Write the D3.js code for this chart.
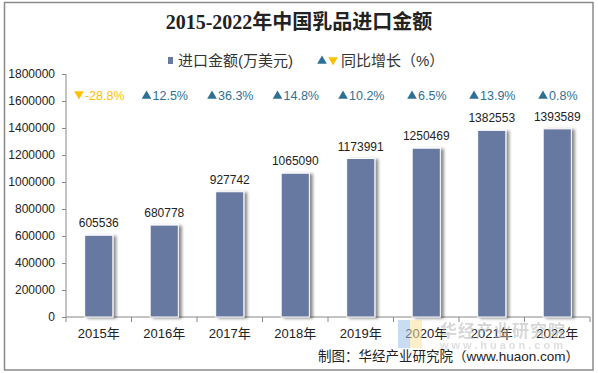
<!DOCTYPE html>
<html>
<head>
<meta charset="utf-8">
<script src="https://cdn.jsdelivr.net/npm/d3@7"></script>
<style>
  body { margin: 0; background: #fff; }
  svg { display: block; font-family: "Liberation Sans", Arial, "Noto Sans CJK SC", sans-serif; }
</style>
</head>
<body>
<svg id="chart" width="598" height="373"></svg>
<script>
const years = ["2015年", "2016年", "2017年", "2018年", "2019年", "2020年", "2021年", "2022年"];
const importValues = [605536, 680778, 927742, 1065090, 1173991, 1250469, 1382553, 1393589];
const growthRates = [-28.8, 12.5, 36.3, 14.8, 10.2, 6.5, 13.9, 0.8];
const yTicks = [0, 200000, 400000, 600000, 800000, 1000000, 1200000, 1400000, 1600000, 1800000];

const w = 598, h = 373;
const margin = { top: 74, right: 8, bottom: 56, left: 66 };
const barColor = "#6779a1";
const upColor = "#2f6f94";
const downColor = "#ffc000";

const svg = d3.select("#chart");

// outer frame
svg.append("rect")
  .attr("x", 4.5).attr("y", 2.5)
  .attr("width", 588.5).attr("height", 367.5)
  .attr("fill", "none").attr("stroke", "#8a8a8a").attr("stroke-width", 1.5);

const defs = svg.append("defs");
const shadow = defs.append("filter").attr("id", "shadow")
  .attr("x", "-20%").attr("y", "-10%").attr("width", "160%").attr("height", "130%");
shadow.append("feDropShadow")
  .attr("dx", 3).attr("dy", 1).attr("stdDeviation", 1.4)
  .attr("flood-color", "#000").attr("flood-opacity", 0.45);

const x = d3.scaleBand()
  .domain(years)
  .range([margin.left, w - margin.right])
  .paddingInner(0.57).paddingOuter(0.285);

const y = d3.scaleLinear()
  .domain([0, 1800000])
  .range([h - margin.bottom, margin.top]);

const tri = d3.symbol().type(d3.symbolTriangle).size(40);

// title
svg.append("text")
  .attr("x", 299).attr("y", 29)
  .attr("text-anchor", "middle")
  .attr("font-family", "'Liberation Serif', 'Noto Sans CJK SC', serif")
  .attr("font-weight", "bold")
  .attr("font-size", 20)
  .attr("fill", "#222")
  .text("2015-2022年中国乳品进口金额");

// legend
const legend = svg.append("g").attr("font-size", 15).attr("fill", "#333");
legend.append("rect").attr("x", 168).attr("y", 57).attr("width", 5).attr("height", 7).attr("fill", barColor);
legend.append("text").attr("x", 178).attr("y", 66).text("进口金额(万美元)");
legend.append("path").attr("d", tri).attr("transform", "translate(322,61)").attr("fill", upColor);
legend.append("path").attr("d", tri).attr("transform", "translate(333,60) rotate(180)").attr("fill", downColor);
legend.append("text").attr("x", 341).attr("y", 66).text("同比增长（%）");

// y axis
const yAxis = svg.append("g")
  .attr("transform", `translate(${margin.left},0)`)
  .call(d3.axisLeft(y).tickValues(yTicks).tickSize(4).tickPadding(7).tickFormat(d3.format("d")));
yAxis.selectAll("text").attr("font-size", 12).attr("fill", "#222");
yAxis.selectAll("line, path").attr("stroke", "#888");
yAxis.select(".domain").attr("d", `M0,${y(0)}V${y(1800000)}`);

// x axis with ticks between categories
const xAxis = svg.append("g")
  .attr("transform", `translate(0,${y(0)})`);
xAxis.append("line")
  .attr("x1", margin.left).attr("x2", w - margin.right)
  .attr("stroke", "#888");
xAxis.selectAll(".tick-mark")
  .data(d3.range(years.length + 1))
  .enter().append("line")
    .attr("class", "tick-mark")
    .attr("x1", i => margin.left + i * x.step())
    .attr("x2", i => margin.left + i * x.step())
    .attr("y1", 0).attr("y2", 5)
    .attr("stroke", "#888");
xAxis.selectAll(".cat")
  .data(years)
  .enter().append("text")
    .attr("class", "cat")
    .attr("x", d => x(d) + x.bandwidth() / 2)
    .attr("y", 21)
    .attr("text-anchor", "middle")
    .attr("font-size", 13)
    .attr("fill", "#222")
    .text(d => d);

// bars
svg.append("g").selectAll("rect")
  .data(importValues)
  .enter().append("rect")
    .attr("x", (d, i) => x(years[i]))
    .attr("y", d => y(d))
    .attr("width", x.bandwidth())
    .attr("height", d => y(0) - y(d))
    .attr("fill", barColor)
    .attr("stroke", "#fff")
    .attr("stroke-width", 1)
    .attr("filter", "url(#shadow)");

// value labels
svg.append("g").selectAll("text")
  .data(importValues)
  .enter().append("text")
    .attr("x", (d, i) => x(years[i]) + x.bandwidth() / 2)
    .attr("y", d => y(d) - 8)
    .attr("text-anchor", "middle")
    .attr("font-size", 12)
    .attr("fill", "#222")
    .text(d => d);

// growth row: triangle + percentage, centred on the band
const growth = svg.append("g").selectAll("g")
  .data(growthRates)
  .enter().append("g")
    .attr("transform", (d, i) => `translate(${x(years[i]) + x.bandwidth() / 2},95)`)
    .attr("fill", d => d < 0 ? downColor : upColor);
growth.append("text")
  .attr("x", 6)
  .attr("y", 5)
  .attr("text-anchor", "middle")
  .attr("font-size", 12.5)
  .text(d => d + "%");
growth.each(function(d) {
  const g = d3.select(this);
  const tw = g.select("text").node().getComputedTextLength();
  g.append("path")
    .attr("d", tri)
    .attr("transform", `translate(${6 - tw / 2 - 6},${d < 0 ? -1 : 1}) rotate(${d < 0 ? 180 : 0})`);
});

// watermark
const wm = svg.append("g").attr("opacity", 0.55);
wm.append("rect").attr("x", 398).attr("y", 320).attr("width", 12).attr("height", 28).attr("fill", "#9cc3ec");
wm.append("rect").attr("x", 410).attr("y", 320).attr("width", 12).attr("height", 28).attr("fill", "#f6e29a");
wm.append("text").attr("x", 440).attr("y", 337).attr("font-size", 17).attr("font-weight", "bold")
  .attr("fill", "#b8b8b8").attr("letter-spacing", 1).text("华经产业研究院");
wm.append("text").attr("x", 440).attr("y", 349).attr("font-size", 11).attr("font-weight", "bold")
  .attr("fill", "#c4c4c4").attr("letter-spacing", 3).text("www.huaon.com");

// source
svg.append("text")
  .attr("x", 579).attr("y", 361)
  .attr("text-anchor", "end")
  .attr("font-size", 13.5)
  .attr("fill", "#222")
  .text("制图：华经产业研究院（www.huaon.com）");
</script>
</body>
</html>
